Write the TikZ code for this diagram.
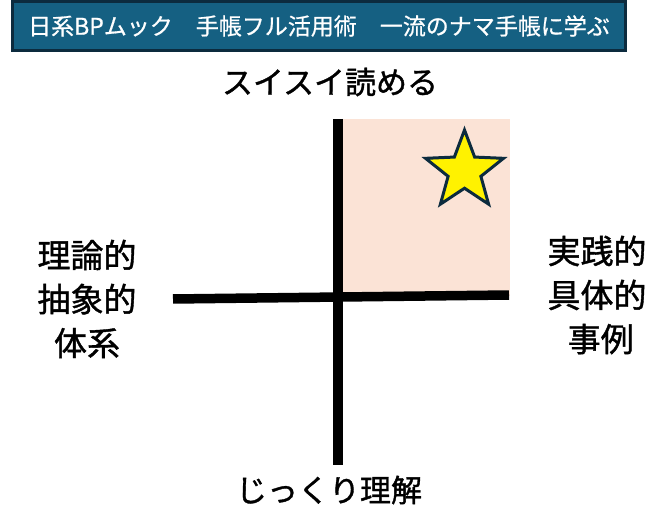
\documentclass[tikz,border=0pt]{standalone}
\usepackage{fontspec}
\setmainfont[FakeBold=1.2]{Noto Sans CJK JP}
\newfontfamily\bannerfont[FakeBold=0.7]{Noto Sans CJK JP}
\usetikzlibrary{positioning,shapes.geometric}
\definecolor{bannerblue}{HTML}{156082}
\definecolor{bannerline}{HTML}{0C2B3E}
\definecolor{quadpink}{HTML}{FBE3D6}
\definecolor{stardark}{HTML}{0C2B3E}

\begin{document}
\begin{tikzpicture}[
          x = 1pt, y = -1pt,
          axisline/.style = {line width = 9.5pt, black}, % axis style
          axislabel/.style = {font = \fontsize{31pt}{44pt}\selectfont, align = center, inner sep = 0pt},
          sidelabel/.style = {axislabel, font = \fontsize{33pt}{44pt}\selectfont}
          ]

          \useasboundingbox (0,0) rectangle (655,526);
          \fill[white] (0,0) rectangle (655,526);

          % shaded quadrant
          \fill[quadpink] (338,119) rectangle (510,296);

          \node[draw = bannerline, line width = 3pt, fill = bannerblue, text = white,
                minimum width = 613pt, minimum height = 49pt, inner sep = 0pt,
                font = \bannerfont\fontsize{23pt}{27pt}\selectfont] (banner) at (319,26)
                {日系BPムック　手帳フル活用術　一流のナマ手帳に学ぶ};

          \coordinate (top) at (338,119);
          \coordinate (bottom) at (338,465);
          \coordinate (left) at (173,299);
          \coordinate (right) at (509,295);

          \draw[axisline] (top) -- (bottom);
          \draw[axisline] (left) -- (right);

          \node[star, star points = 5, star point ratio = 2.38, minimum size = 82pt, inner sep = 0pt,
                draw = stardark, line width = 3pt, fill = yellow] (goal) at (464.5,171) {};

          \node[axislabel] (fast) at (330,82) {スイスイ読める};
          \node[axislabel] (slow) at (329,490) {じっくり理解};
          \node[sidelabel] (abstract) at (87,299) {理論的\\抽象的\\体系};
          \node[sidelabel] (concrete) at (597,295) {実践的\\具体的\\\ 事例};

        \end{tikzpicture}
\end{document}
